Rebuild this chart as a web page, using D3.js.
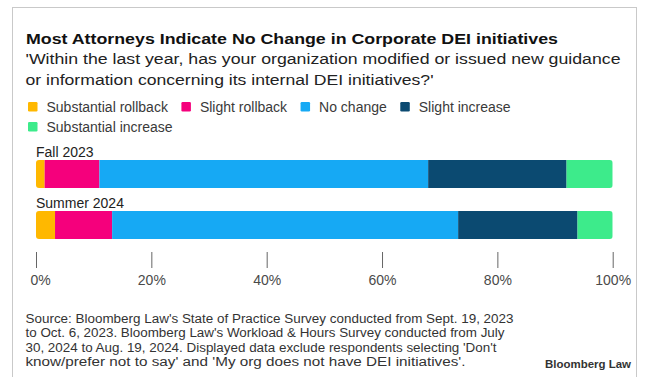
<!DOCTYPE html>
<html>
<head>
<meta charset="utf-8">
<script src="https://cdn.jsdelivr.net/npm/d3@7"></script>
<style>
  html, body { margin: 0; padding: 0; background: #fff; }
  svg { display: block; font-family: "Liberation Sans", Arial, Helvetica, sans-serif; }
</style>
</head>
<body>
<svg id="chart" width="649" height="377"></svg>
<script>
// Survey periods (one bar each)
const periods = ["Fall 2023", "Summer 2024"];

// Response categories, in stacking order
const responses = ["Substantial rollback", "Slight rollback", "No change", "Slight increase", "Substantial increase"];
const responseColors = ["#FFB800", "#F5007C", "#16A9F4", "#0B4A71", "#3DEB8B"];

// Share of respondents (%) per response, one array per period
const fall2023 = [1.5, 9.5, 57, 24, 8];
const summer2024 = [3.3, 9.9, 60, 20.7, 6.1];

// Axis ticks
const tickValues = [0, 20, 40, 60, 80, 100];
const tickLabels = ["0%", "20%", "40%", "60%", "80%", "100%"];

const title = "Most Attorneys Indicate No Change in Corporate DEI initiatives";
const subtitleLines = [
  "'Within the last year, has your organization modified or issued new guidance",
  "or information concerning its internal DEI initiatives?'"
];
const sourceLines = [
  "Source: Bloomberg Law's State of Practice Survey conducted from Sept. 19, 2023",
  "to Oct. 6, 2023. Bloomberg Law's Workload & Hours Survey conducted from July",
  "30, 2024 to Aug. 19, 2024. Displayed data exclude respondents selecting 'Don't",
  "know/prefer not to say' and 'My org does not have DEI initiatives'."
];
const credit = "Bloomberg Law";

const svg = d3.select("#chart");

// Squeeze a text line to a given width when the font runs wider or narrower
function fitTo(sel, width) {
  const w = sel.node().getComputedTextLength();
  if (Math.abs(w - width) > 1) {
    sel.attr("textLength", width).attr("lengthAdjust", "spacingAndGlyphs");
  }
  return sel;
}

// Card outline
svg.append("rect")
  .attr("x", 12.5).attr("y", 7.5)
  .attr("width", 624).attr("height", 380)
  .attr("fill", "#fff")
  .attr("stroke", "#c9c9c9")
  .attr("stroke-width", 1);

// Title
fitTo(svg.append("text")
  .attr("x", 26).attr("y", 43.5)
  .attr("font-size", 15.5)
  .attr("font-weight", "bold")
  .attr("fill", "#111")
  .text(title), 532);

// Subtitle
const subWidths = [595, 408];
subtitleLines.forEach((line, i) => {
  fitTo(svg.append("text")
    .attr("x", 25.5).attr("y", 63.5 + i * 21)
    .attr("font-size", 15.5)
    .attr("fill", "#222")
    .text(line), subWidths[i]);
});

// Legend: two rows, flowing left to right
const legendRows = [[0, 1, 2, 3], [4]];
legendRows.forEach((row, r) => {
  let x = 28;
  const cy = 107 + r * 20;
  row.forEach(k => {
    const g = svg.append("g");
    g.append("rect")
      .attr("x", x).attr("y", cy - 5)
      .attr("width", 9.5).attr("height", 9.5)
      .attr("rx", 1.2)
      .attr("fill", responseColors[k]);
    const t = g.append("text")
      .attr("x", x + 18.5).attr("y", cy + 5)
      .attr("font-size", 14)
      .attr("fill", "#3a3a3a")
      .text(responses[k]);
    const w = t.node().getComputedTextLength();
    x = x + 18.5 + w + 13.5;
  });
});

// Scales
const x = d3.scaleLinear().domain([0, 100]).range([36, 612.7]);
const y = d3.scaleBand().domain(periods).range([160, 239]).paddingInner(0.451).paddingOuter(0);

// Stacked data
const rows = periods.map((p, i) => {
  const vals = i === 0 ? fall2023 : summer2024;
  const o = { period: p };
  responses.forEach((r, j) => { o[r] = vals[j]; });
  return o;
});
const series = d3.stack().keys(responses)(rows);

// Rounded clip for each bar
const defs = svg.append("defs");
periods.forEach((p, i) => {
  defs.append("clipPath").attr("id", "bar-clip-" + i)
    .append("rect")
    .attr("x", x(0)).attr("y", y(p))
    .attr("width", x(100) - x(0)).attr("height", y.bandwidth())
    .attr("rx", 3);
});

const barLayer = svg.append("g");
series.forEach((s, k) => {
  barLayer.selectAll(null)
    .data(s)
    .join("rect")
    .attr("clip-path", (d, i) => "url(#bar-clip-" + i + ")")
    .attr("x", d => x(d[0]))
    .attr("y", d => y(d.data.period))
    .attr("width", d => x(d[1]) - x(d[0]))
    .attr("height", y.bandwidth())
    .attr("fill", responseColors[k]);
});

// Period labels above each bar
periods.forEach(p => {
  svg.append("text")
    .attr("x", 36).attr("y", y(p) - 3.5)
    .attr("font-size", 14)
    .attr("fill", "#222")
    .text(p);
});

// Percent axis: short ticks with labels beneath, no baseline
const axis = svg.append("g")
  .attr("transform", "translate(0,252)")
  .call(d3.axisBottom(x)
    .tickValues(tickValues)
    .tickFormat((d, i) => tickLabels[i])
    .tickSize(16));
axis.select(".domain").remove();
axis.selectAll(".tick line").attr("stroke", "#666").attr("stroke-width", 1);
axis.selectAll(".tick text")
  .attr("y", 33).attr("dy", 0)
  .attr("dx", d => d === 0 ? 4 : 0)
  .attr("font-size", 14)
  .attr("font-family", "'Liberation Sans', Arial, sans-serif")
  .attr("fill", "#4a4a4a");

// Source note
const srcWidths = [488, 479, 471, 440];
sourceLines.forEach((line, i) => {
  fitTo(svg.append("text")
    .attr("x", 25.5).attr("y", 322.5 + i * 14.6)
    .attr("font-size", 12)
    .attr("fill", "#333")
    .text(line), srcWidths[i]);
});

// Credit
fitTo(svg.append("text")
  .attr("x", 545).attr("y", 368)
  .attr("font-size", 11)
  .attr("font-weight", "bold")
  .attr("fill", "#333")
  .text(credit), 86);
</script>
</body>
</html>
